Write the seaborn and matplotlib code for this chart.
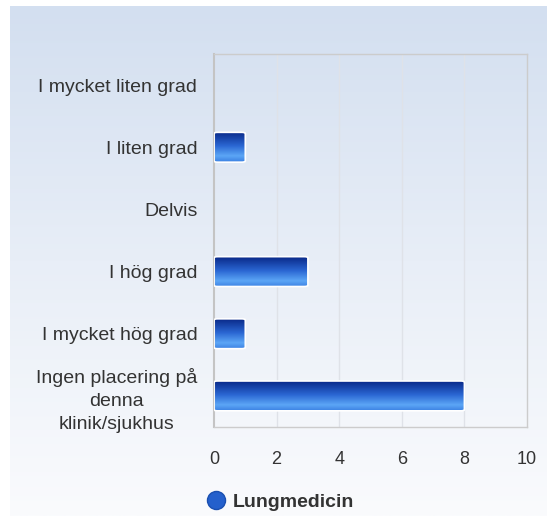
import numpy as np
import pandas as pd
import matplotlib
matplotlib.use("Agg")
import matplotlib.pyplot as plt
import seaborn as sns
from matplotlib.colors import LinearSegmentedColormap
from matplotlib.lines import Line2D
from matplotlib.patches import FancyBboxPatch

categories = ["I mycket liten grad", "I liten grad", "Delvis", "I hög grad",
              "I mycket hög grad", "Ingen placering på\ndenna\nklinik/sjukhus"]
values = [0, 1, 0, 3, 1, 8]
series_name = "Lungmedicin"
xticks = [0, 2, 4, 6, 8, 10]

df = pd.DataFrame({"kategori": categories, "antal": values})

sns.set_theme(style="white")
plt.rcParams["font.family"] = ["Liberation Sans", "DejaVu Sans"]

W, H = 547, 516
fig = plt.figure(figsize=(W / 100, H / 100), dpi=100)
fig.patch.set_facecolor("white")

# background gradient panel
bg = fig.add_axes([10 / W, 0, 1 - 10 / W, 1 - 6 / H])
bg_cmap = LinearSegmentedColormap.from_list("bg", ["#d3dff0", "#e8eef7", "#fafbfd"])
bg.imshow(np.linspace(0, 1, 256).reshape(-1, 1), aspect="auto", cmap=bg_cmap,
          extent=[0, 1, 0, 1], origin="upper")
bg.set_axis_off()

ax = fig.add_axes([214 / W, 1 - 427 / H, (527 - 214) / W, (427 - 54) / H])
ax.patch.set_alpha(0)

sns.barplot(data=df, x="antal", y="kategori", orient="h", ax=ax,
            color="#2a66d0", width=0.48, saturation=1)

ax.set_xlim(0, 10)
ax.set_xticks(xticks)
ax.set_xticklabels([str(t) for t in xticks])
ax.set_xlabel("")
ax.set_ylabel("")
ax.tick_params(axis="x", length=0, pad=17, labelsize=13, labelcolor="#333333")
ax.tick_params(axis="y", length=0, pad=12, labelsize=14, labelcolor="#333333")
for lbl in ax.get_yticklabels():
    lbl.set_horizontalalignment("right")
    lbl.set_multialignment("center")
    lbl.set_linespacing(1.45)
    if "\n" in lbl.get_text():
        lbl.set_y(lbl.get_position()[1])
for x in xticks[1:-1]:
    ax.axvline(x, color="#dfe2e8", lw=1, zorder=0)
for s in ax.spines.values():
    s.set_color("#cccccc")
    s.set_linewidth(1)
ax.spines["left"].set_color("#c4c4c4")
ax.spines["left"].set_linewidth(1.5)

# gradient fill for bars
bar_cmap = LinearSegmentedColormap.from_list(
    "bar", [(0, "#0a2a8a"), (0.45, "#2a66d2"), (0.8, "#5ca6f6"), (1, "#3b80e2")])
grad = np.linspace(0, 1, 64).reshape(-1, 1)
for p in list(ax.patches):
    w = p.get_width()
    if w <= 0:
        p.set_visible(False)
        continue
    x0, y0, h = p.get_x(), p.get_y(), p.get_height()
    p.set_visible(False)
    box = FancyBboxPatch((x0, y0), w, h, boxstyle="round,pad=0,rounding_size=0.12",
                         mutation_aspect=h / 0.12 * 0.035, facecolor="none",
                         edgecolor="white", lw=1.2, zorder=3)
    ax.add_patch(box)
    im = ax.imshow(grad, aspect="auto", cmap=bar_cmap, extent=[x0, x0 + w, y0 + h, y0],
                   origin="upper", zorder=2)
    im.set_clip_path(box)
ax.set_xlim(0, 10)
ax.set_ylim(5.5, -0.5)

handle = Line2D([], [], marker="o", linestyle="none", markersize=13,
                markerfacecolor="#2460cc", markeredgecolor="#1a4fb0")
fig.legend([handle], [series_name], loc="center left",
           bbox_to_anchor=(206 / W, 1 - 502 / H), frameon=False,
           handlelength=1.0, handletextpad=0.35, borderpad=0, borderaxespad=0,
           prop={"weight": "bold", "size": 14}, labelcolor="#333333")

fig.savefig("out.png", dpi=100)
